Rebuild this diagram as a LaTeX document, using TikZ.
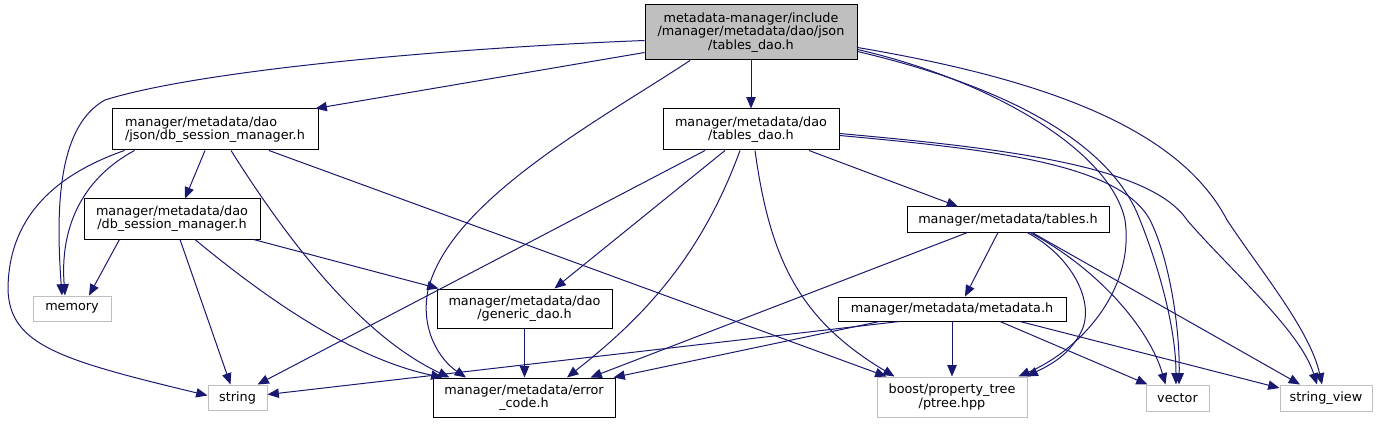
\documentclass[tikz,border=0pt]{standalone}
\usepackage{fontspec}
\setmainfont{DejaVu Sans}
\usetikzlibrary{arrows.meta,calc}
\definecolor{navy}{HTML}{191970}
\definecolor{lgray}{HTML}{BFBFBF}
\begin{document}
\begin{tikzpicture}[x=0.75pt,y=-0.75pt]
\tikzset{
 box/.style={draw=black, fill=white, line width=0.75pt, inner sep=0pt, align=center, font=\fontsize{9.6pt}{9.9pt}\selectfont},
 ext/.style={box, draw=lgray},
 sz/.style 2 args={minimum width=#1*0.75pt, minimum height=#2*0.75pt},
 link/.style={draw=navy, line width=0.75pt, -{Triangle[length=8.5pt,width=7pt]}}
}
\useasboundingbox (0,0) rectangle (1385,424);
% nodes
\node[box, fill=lgray, sz={212}{55}] (T) at (751,32.5) {metadata-manager/include\\/manager/metadata/dao/json\\/tables\_dao.h};
\node[box, align=left, sz={206}{41}] (J) at (215,129.5) {manager/metadata/dao\\/json/db\_session\_manager.h};
\node[box, sz={176}{41}] (D) at (751,129.5) {manager/metadata/dao\\/tables\_dao.h};
\node[box, sz={176}{40}] (M) at (172,219) {manager/metadata/dao\\/db\_session\_manager.h};
\node[ext, sz={78}{25}] (mem) at (72,308.5) {memory};
\node[ext, sz={59}{25}] (str) at (237.5,397.5) {string};
\node[box, sz={175}{39}] (G) at (524.5,308.5) {manager/metadata/dao\\/generic\_dao.h};
\node[box, sz={182}{39}] (E) at (524,397.5) {manager/metadata/error\\\_code.h};
\node[box, sz={202}{25}] (TB) at (1008,219.5) {manager/metadata/tables.h};
\node[box, sz={228}{24}] (MD) at (952,309) {manager/metadata/metadata.h};
\node[ext, sz={150}{40}] (PT) at (952,397) {boost/property\_tree\\/ptree.hpp};
\node[ext, sz={63}{26}] (V) at (1177.5,398) {vector};
\node[ext, sz={92}{26}] (SV) at (1326,398) {string\_view};
% edges from T
\draw[link] ($(T.west)+(0,8)$) .. controls (450,48) and (200,70) .. (105,100) .. controls (60,125) and (55,200) .. ($(mem.north)+(-10,0)$);
\draw[link] ($(T.west)+(0,20)$) -- ($(J.north east)+(-3,0)$);
\draw[link] ($(T.south)+(-61,0)$) .. controls (600,120) and (450,200) .. (428,290) .. controls (420,330) and (440,360) .. ($(E.north)+(-58,0)$);
\draw[link] (T.south) -- (D.north);
\draw[link] ($(T.east)+(0,17)$) .. controls (990,80) and (1110,150) .. (1125,220) .. controls (1135,290) and (1080,350) .. ($(PT.north east)+(-9,0)$);
\draw[link] ($(T.east)+(0,19)$) .. controls (1000,85) and (1110,140) .. (1140,220) .. controls (1160,270) and (1176,330) .. ($(V.north)+(-1.5,0)$);
\draw[link] ($(T.east)+(0,15)$) .. controls (1050,80) and (1180,130) .. (1227,220) .. controls (1260,270) and (1310,330) .. ($(SV.north)+(-4,0)$);
% edges from D
\draw[link] ($(D.south)+(-46,0)$) -- ($(str.north)+(20,0)$);
\draw[link] ($(D.south)+(-26,0)$) -- ($(G.north)+(30,0)$);
\draw[link] ($(D.south)+(-11,0)$) .. controls (700,260) and (640,320) .. ($(E.north)+(43,0)$);
\draw[link] ($(D.south)+(4,0)$) .. controls (770,260) and (800,320) .. ($(PT.north west)+(18,0)$);
\draw[link] ($(D.south)+(58,0)$) -- ($(TB.north)+(-50,0)$);
\draw[link] ($(D.east)+(0,6)$) .. controls (1000,150) and (1120,165) .. (1150,220) .. controls (1170,260) and (1180,330) .. ($(V.north)+(1.5,0)$);
\draw[link] ($(D.east)+(0,4)$) .. controls (1000,148) and (1150,165) .. (1187,220) .. controls (1230,270) and (1300,330) .. ($(SV.north)+(-9,0)$);
% edges from J
\draw[link] ($(J.south west)+(23,0)$) .. controls (80,180) and (60,230) .. ($(mem.north)+(-7,0)$);
\draw[link] ($(J.south west)+(13,0)$) .. controls (40,180) and (8,230) .. (8,290) .. controls (10,345) and (60,360) .. ($(str.west)+(0,-2)$);
\draw[link] ($(J.south)+(-10,0)$) -- ($(M.north)+(13,0)$);
\draw[link] ($(J.south)+(16,0)$) .. controls (300,260) and (370,340) .. ($(E.north west)+(17,0)$);
\draw[link] ($(J.south)+(54,0)$) -- ($(PT.north west)+(10,0)$);
% edges from M
\draw[link] ($(M.south west)+(36,0)$) -- ($(mem.north)+(17,0)$);
\draw[link] ($(M.south)+(8,0)$) -- ($(str.north)+(-7,0)$);
\draw[link] ($(M.south)+(23,0)$) .. controls (280,310) and (360,360) .. ($(E.north west)+(10,0)$);
\draw[link] ($(M.south east)+(-7,0)$) -- ($(G.north west)+(2,0)$);
% G
\draw[link] (G.south) -- (G.south |- E.north);
% edges from TB
\draw[link] ($(TB.south west)+(61,0)$) -- ($(E.north east)+(-25,0)$);
\draw[link] ($(TB.south)+(-10,0)$) -- ($(MD.north)+(13,0)$);
\draw[link] ($(TB.south)+(19,0)$) .. controls (1070,255) and (1095,300) .. (1082,330) .. controls (1070,355) and (1050,365) .. ($(PT.north east)+(-1,0)$);
\draw[link] ($(TB.south)+(22,0)$) .. controls (1100,270) and (1150,330) .. ($(V.north)+(-12,0)$);
\draw[link] ($(TB.south)+(24,0)$) -- ($(SV.north)+(-26,0)$);
% edges from MD
\draw[link] ($(MD.south west)+(62,0)$) -- ($(str.east)+(0,-3)$);
\draw[link] ($(MD.south west)+(42,0)$) -- ($(E.north east)+(-2,0)$);
\draw[link] (MD.south) -- (PT.north);
\draw[link] ($(MD.south)+(48,0)$) -- ($(V.north west)+(2,0)$);
\draw[link] ($(MD.south)+(68,0)$) -- ($(SV.west)+(0,-10)$);
\end{tikzpicture}
\end{document}
